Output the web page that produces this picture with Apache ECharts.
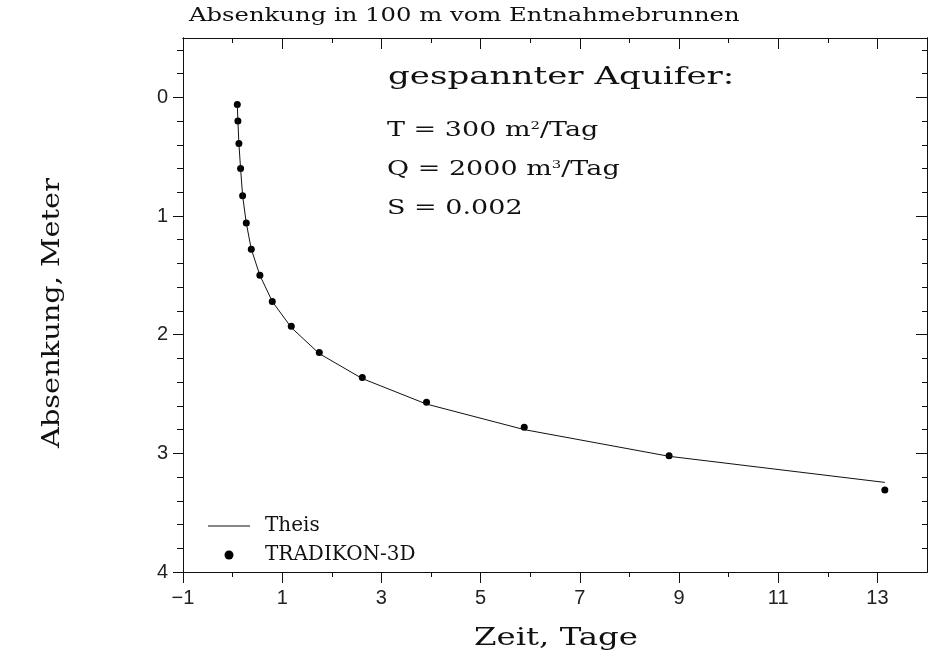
<!DOCTYPE html>
<html><head><meta charset="utf-8">
<script src="https://cdn.jsdelivr.net/npm/echarts@6/dist/echarts.min.js"></script>
<style>html,body{margin:0;padding:0;background:#fff}#c{width:942px;height:668px}</style>
</head><body><div id="c"></div>
<script>
// Time in days (x) and drawdown in metres (y)
const timeDays = [0.095,0.107,0.127,0.161,0.202,0.276,0.377,0.550,0.800,1.183,1.748,2.615,3.91,5.88,8.80,13.15];
const tradikonDrawdown = [0.06,0.20,0.39,0.60,0.83,1.06,1.28,1.50,1.72,1.93,2.15,2.36,2.57,2.78,3.02,3.31];
const theisDrawdown = [0.06,0.20,0.39,0.60,0.83,1.06,1.28,1.50,1.72,1.94,2.16,2.37,2.585,2.80,3.025,3.245];
const xMajorTicks = [-1,1,3,5,7,9,11,13];
const xMinorTicks = [0,2,4,6,8,10,12];
const yMajorTicks = [0,1,2,3,4];
const yMinorTicks = [-0.4,-0.2,0.2,0.4,0.6,0.8,1.2,1.4,1.6,1.8,2.2,2.4,2.6,2.8,3.2,3.4,3.6,3.8];

const INK = '#111';
const SERIF = '"DejaVu Serif", "Liberation Serif", serif';
const STRETCH = 1.35;
const minusFmt = v => String(v).replace('-', '\u2212');

function xAx(pos, ticks, len, inside, labels) {
  return {
    type: 'value', min: -1, max: 14, position: pos,
    axisLine: { show: true, onZero: false, lineStyle: { color: INK, width: 1 } },
    axisTick: { show: true, inside: inside, length: len, customValues: ticks, lineStyle: { color: INK, width: 1 } },
    axisLabel: labels ? { show: true, customValues: ticks, formatter: minusFmt, margin: 16, fontFamily: '"Liberation Sans", sans-serif', fontSize: 20, color: '#222' } : { show: false },
    splitLine: { show: false }
  };
}
function yAx(pos, ticks, len, inside, labels) {
  return {
    type: 'value', min: -0.5, max: 4, inverse: true, position: pos,
    axisLine: { show: true, onZero: false, lineStyle: { color: INK, width: 1 } },
    axisTick: { show: true, inside: inside, length: len, customValues: ticks, lineStyle: { color: INK, width: 1 } },
    axisLabel: labels ? { show: true, customValues: ticks, margin: 15, fontFamily: '"Liberation Sans", sans-serif', fontSize: 20, color: '#222' } : { show: false },
    splitLine: { show: false }
  };
}

const chart = echarts.init(document.getElementById('c'), null, { renderer: 'canvas' });
chart.setOption({
  animation: false,
  backgroundColor: '#fff',
  grid: { left: 183, right: 15, top: 38, bottom: 96, containLabel: false },
  xAxis: [
    xAx('bottom', xMajorTicks, 11, false, true),
    xAx('bottom', xMinorTicks, 5, false, false),
    xAx('top', xMajorTicks, 11, true, false),
    xAx('top', xMinorTicks, 5, true, false)
  ],
  yAxis: [
    yAx('left', yMajorTicks, 10, false, true),
    yAx('left', yMinorTicks, 6, false, false),
    yAx('right', yMajorTicks, 11, true, false),
    yAx('right', yMinorTicks, 5, true, false)
  ],
  legend: {
    orient: 'vertical', left: 203, top: 511,
    itemWidth: 42, itemHeight: 9, itemGap: 9,
    symbolKeepAspect: true,
    textStyle: { fontFamily: SERIF, fontSize: 20, color: INK, padding: [0, 0, 0, 10] },
    data: [
      { name: 'Theis', icon: 'path://M0,0 L40,0 L40,1 L0,1 Z' },
      { name: 'TRADIKON-3D', icon: 'circle' }
    ]
  },
  series: [
    {
      name: 'Theis', type: 'line', xAxisIndex: 0, yAxisIndex: 0,
      data: timeDays.map((t, i) => [t, theisDrawdown[i]]),
      symbol: 'none', smooth: false,
      lineStyle: { color: INK, width: 1 }, itemStyle: { color: INK }
    },
    {
      name: 'TRADIKON-3D', type: 'scatter', xAxisIndex: 0, yAxisIndex: 0,
      data: timeDays.map((t, i) => [t, tradikonDrawdown[i]]),
      symbol: 'circle', symbolSize: 7,
      itemStyle: { color: '#000', opacity: 1 }
    }
  ],
  graphic: [
    { type: 'text', x: 189, y: 16, scaleX: STRETCH,
      style: { text: 'Absenkung in 100 m vom Entnahmebrunnen', font: '18px ' + SERIF, fill: INK, align: 'left', verticalAlign: 'middle' } },
    { type: 'text', x: 388, y: 78, scaleX: 1.42,
      style: { text: 'gespannter Aquifer:', font: '24px ' + SERIF, fill: INK, align: 'left', verticalAlign: 'middle' } },
    { type: 'text', x: 387, y: 131, scaleX: STRETCH,
      style: { text: 'T = 300 m{s|2}/Tag', font: '20px ' + SERIF, fill: INK, align: 'left', verticalAlign: 'middle',
        rich: { s: { font: '11px ' + SERIF, fill: INK, verticalAlign: 'top' } } } },
    { type: 'text', x: 387, y: 170, scaleX: STRETCH,
      style: { text: 'Q = 2000 m{s|3}/Tag', font: '20px ' + SERIF, fill: INK, align: 'left', verticalAlign: 'middle',
        rich: { s: { font: '11px ' + SERIF, fill: INK, verticalAlign: 'top' } } } },
    { type: 'text', x: 387, y: 209, scaleX: STRETCH,
      style: { text: 'S = 0.002', font: '20px ' + SERIF, fill: INK, align: 'left', verticalAlign: 'middle' } },
    { type: 'text', x: 556, y: 639, scaleX: STRETCH,
      style: { text: 'Zeit, Tage', font: '24px ' + SERIF, fill: INK, align: 'center', verticalAlign: 'middle' } },
    { type: 'text', x: 53, y: 313, rotation: Math.PI / 2, scaleX: 1.2,
      style: { text: 'Absenkung, Meter', font: '24px ' + SERIF, fill: INK, align: 'center', verticalAlign: 'middle' } }
  ]
});
</script>
</body></html>
